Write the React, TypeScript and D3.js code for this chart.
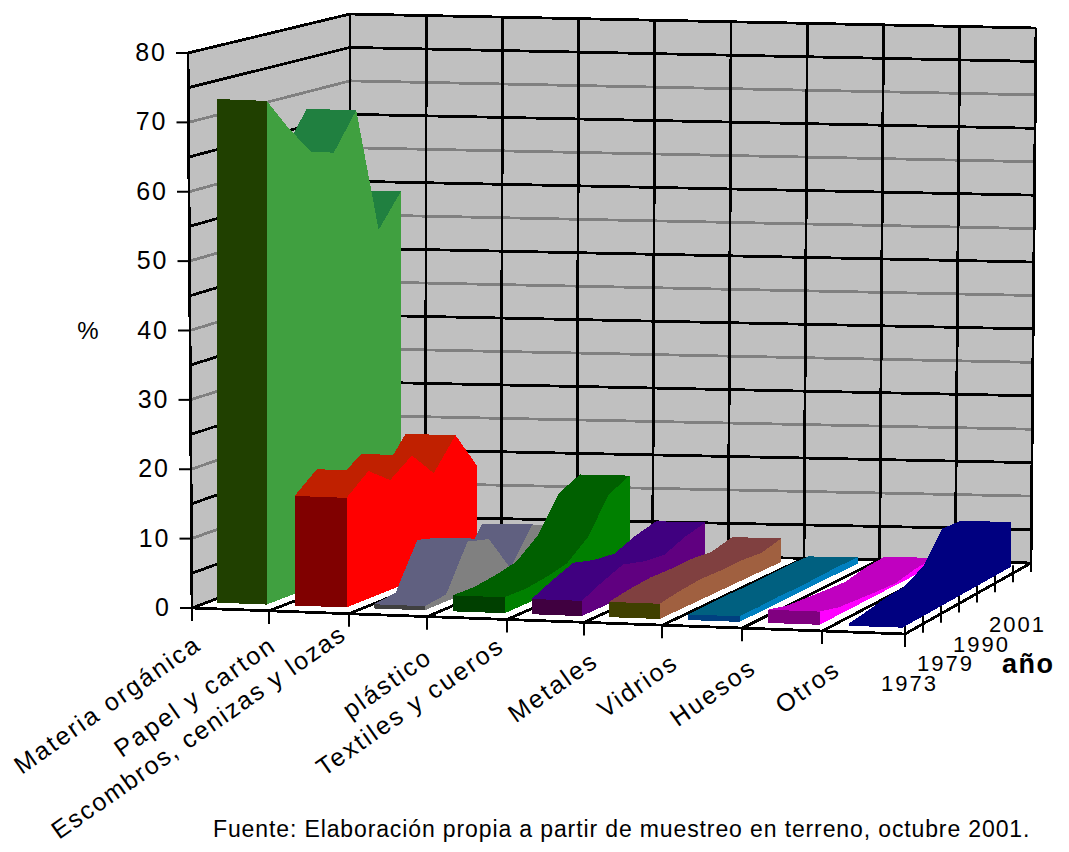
import React from 'react'
import * as d3 from 'd3'

const WIDTH = 1069
const HEIGHT = 852

const CATEGORIES = [
  'Materia orgánica',
  'Papel y carton',
  'Escombros, cenizas y lozas',
  'plástico',
  'Textiles y cueros',
  'Metales',
  'Vidrios',
  'Huesos',
  'Otros'
]
const YEAR_LABELS = ['1973', '1979', '1990', '2001']
const Y_TICKS = [0, 10, 20, 30, 40, 50, 60, 70, 80]

// lecturas a lo largo del eje de profundidad, una fila por categoria
const materiaOrganica = [72.6, 67.7, 63.4, 62.4, 67.7, 49.1, 53.8]
const papelCarton = [15.8, 18.5, 16, 18.4, 14.6, 19, 13.2]
const escombros = [0.6, 1, 7.4, 6.5, 0.9, 6, 4.7]
const plastico = [2.3, 2.2, 2.6, 3.3, 5.8, 10.8, 12.3]
const textiles = [2.2, 3.6, 4.8, 3.9, 3.5, 4.8, 5.6]
const metales = [2.2, 2.7, 3, 2.9, 3, 2.7, 3.5]
const vidrios = [0.8, 0.8, 0.9, 0.8, 0.9, 1, 0.9]
const huesos = [1.9, 1.1, 0.8, 0.5, 0.3, 0.9, 1.1]
const otros = [0.3, 0.7, 1.2, 1.4, 2.9, 7, 6.7]
const SERIES = [materiaOrganica, papelCarton, escombros, plastico, textiles, metales, vidrios, huesos, otros]

// frente, tapa, lado
const COLORS = [
  ['#204000', '#208040', '#40a040'],
  ['#800000', '#c02000', '#ff0000'],
  ['#404040', '#606080', '#808080'],
  ['#004000', '#006000', '#008000'],
  ['#400040', '#400080', '#600080'],
  ['#404000', '#804040', '#a06040'],
  ['#004080', '#006080', '#0080c0'],
  ['#800080', '#c000c0', '#ff00ff'],
  ['#000080', '#000080', '#000080']
]

// ajuste fino de cada etiqueta rotada
const LABEL_DX = [-5, -7, -17, -9, -17, 0, 2, 0, 4]
const LABEL_DY = [-2, -4, -18, 2, -12, 0, -1, 1, 0]

// proyeccion de la caja 3D
const frontX = d3.scaleLinear().domain(d3.range(10)).range([192, 269, 349, 427, 507, 584, 662, 742, 822, 905])
const backX = d3.scaleLinear().domain([0, 9]).range([350, 1031])
const depth = d3.scaleLinear().domain([0, 7]).range([0, 1])
const level = d3.scaleLinear().domain([0, 80]).range([0, 1])

function lerp(a: number, b: number, t: number) {
  return a + (b - a) * t
}

// lean: las paredes se inclinan un poco, las cintas no
function project(c: number, z: number, v: number, lean = 1): [number, number] {
  const u = c / 9
  const floorX = lerp(frontX(c), backX(c), z)
  const floorY = lerp(lerp(608, 634, u), lerp(549, 563, u), z)
  const shift = lerp(lerp(-4, -2, u), lerp(0, 5, u), z)
  const rise = lerp(555, 535, z)
  return [floorX + lean * shift * level(v), floorY - rise * level(v)]
}

const poly = (pts: [number, number][]) => (d3.line()(pts) ?? '') + 'Z'
const seg = (a: [number, number], b: [number, number]) => d3.line()([a, b]) ?? ''

const BASE = 0.9
const LEFT = 0.32
const RIGHT = 0.97
const FONT = 'Liberation Sans'

const App: React.FC = () => {
  const gridValues = d3.range(0, 85, 5)
  const cols = d3.range(10)
  const depthTicks = d3.range(0, 8)

  return (
    <svg width={WIDTH} height={HEIGHT} style={{ position: 'absolute', left: 0, top: 0, background: '#fff' }}>
      {/* paredes */}
      <path d={poly([project(0, 0, 0), project(0, 0, 80), project(0, 1, 80), project(0, 1, 0)])} fill="#c0c0c0" />
      <path d={poly([project(0, 1, 0), project(0, 1, 80), project(9, 1, 80), project(9, 1, 0)])} fill="#c0c0c0" />
      <g shapeRendering="crispEdges" strokeWidth={2.8} fill="none">
        {gridValues.map(v => {
          const color = v % 10 === 0 && v !== 80 && v !== 0 ? '#808080' : '#000'
          return (
            <g key={v} stroke={color}>
              <path d={seg(project(0, 0, v), project(0, 1, v))} />
              <path d={seg(project(0, 1, v), project(9, 1, v))} />
            </g>
          )
        })}
        {cols.map(c => (
          <path key={c} d={seg(project(c, 1, 0), project(c, 1, 80))} stroke="#000" />
        ))}
        <path d={seg(project(0, 0, 0), project(0, 0, 80))} stroke="#000" />

        {/* piso */}
        {cols.map(c => (
          <path key={c} d={seg(project(c, 0, 0), project(c, 1, 0))} stroke="#000" />
        ))}
        <path d={seg(project(0, 0, 0), project(9, 0, 0))} stroke="#000" />
      </g>

      {/* marcas */}
      {Y_TICKS.map(v => {
        const [x, y] = project(0, 0, v)
        return (
          <g key={v}>
            <line x1={x - 12} x2={x} y1={y} y2={y} stroke="#000" strokeWidth={2} />
            <text x={x - 21} y={y + 8} textAnchor="end" fontFamily={FONT} fontSize={25} letterSpacing={2}>
              {v}
            </text>
          </g>
        )
      })}
      {cols.map(c => {
        const [x, y] = project(c, 0, 0)
        return <line key={c} x1={x} x2={x} y1={y} y2={y + 13} stroke="#000" strokeWidth={2} />
      })}
      {depthTicks.map(k => {
        const [x, y] = project(9, depth(k), 0)
        return <line key={k} x1={x} x2={x} y1={y - 8} y2={y + 9} stroke="#000" strokeWidth={2} />
      })}

      {/* cintas: de izquierda a derecha, cada una de atras hacia adelante */}
      {SERIES.map((values, i) => {
        const [front, top, side] = COLORS[i]
        const l = i + LEFT
        const r = i + RIGHT
        const sideTop = values.map((v, j) => project(r, depth(j), v + BASE, 0))
        const sideBottom = values.map((_, j) => project(r, depth(j), BASE, 0)).reverse()
        const quads = d3.range(values.length - 2, -1, -1)
        return (
          <g key={i} shapeRendering="crispEdges">
            {quads.map(j => (
              <path
                key={j}
                fill={top}
                d={poly([
                  project(l, depth(j), values[j] + BASE, 0),
                  project(r, depth(j), values[j] + BASE, 0),
                  project(r, depth(j + 1), values[j + 1] + BASE, 0),
                  project(l, depth(j + 1), values[j + 1] + BASE, 0)
                ])}
              />
            ))}
            <path fill={side} d={poly([...sideTop, ...sideBottom])} />
            <path
              fill={front}
              d={poly([
                project(l, 0, BASE, 0),
                project(l, 0, values[0] + BASE, 0),
                project(r, 0, values[0] + BASE, 0),
                project(r, 0, BASE, 0)
              ])}
            />
          </g>
        )
      })}

      {/* textos */}
      {CATEGORIES.map((name, c) => {
        const [x, y] = project(c, 0, 0)
        return (
          <text
            key={name}
            transform={`translate(${x + 16 + LABEL_DX[c]},${y + 42 + LABEL_DY[c]}) rotate(-35)`}
            textAnchor="end"
            fontFamily={FONT}
            fontSize={25}
            letterSpacing={c === 2 ? 1.7 : 2.2}
          >
            {name}
          </text>
        )
      })}
      {YEAR_LABELS.map((label, k) => {
        const [x, y] = project(9, depth(k * 2), 0)
        return (
          <text key={label} x={x + 33} y={y + 57 + k * 0.7} textAnchor="end" fontFamily={FONT} fontSize={22} letterSpacing={2}>
            {label}
          </text>
        )
      })}
      <text x={1002} y={673} fontFamily={FONT} fontWeight="bold" fontSize={27} letterSpacing={1.5}>
        año
      </text>
      <text x={88} y={339} textAnchor="middle" fontFamily={FONT} fontSize={24}>
        %
      </text>
      <text x={213} y={837} fontFamily={FONT} fontSize={23} letterSpacing={0.88}>
        Fuente: Elaboración propia a partir de muestreo en terreno, octubre 2001.
      </text>
    </svg>
  )
}

export default App
